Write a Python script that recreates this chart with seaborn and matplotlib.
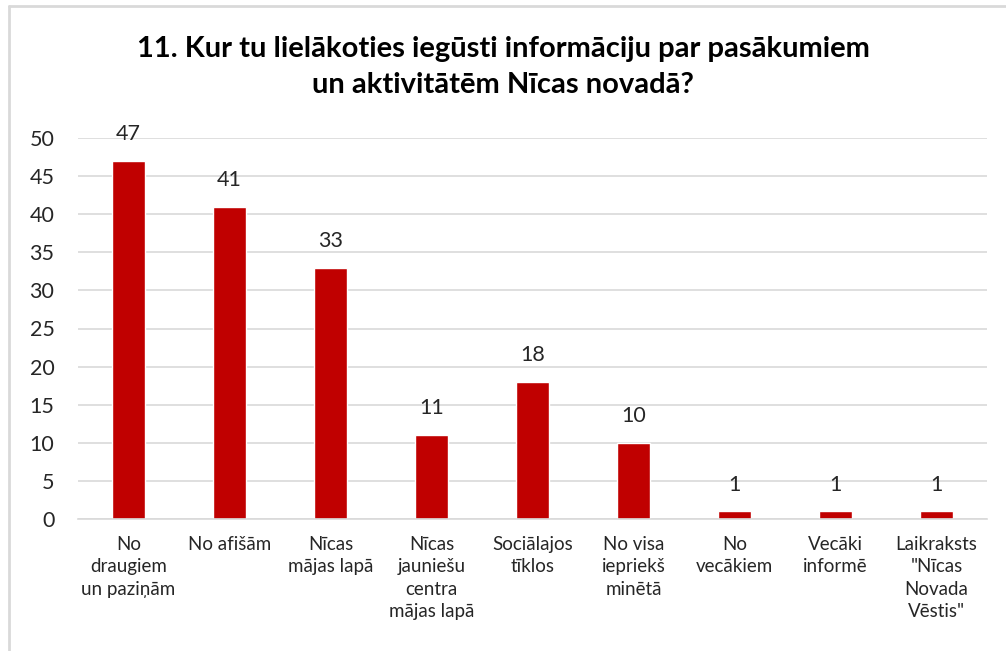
import matplotlib
matplotlib.use("Agg")
import matplotlib.pyplot as plt
import seaborn as sns
import pandas as pd
from matplotlib.lines import Line2D

# --- dati ---
categories = [
    "No\ndraugiem\nun paziņām",
    "No afišām",
    "Nīcas\nmājas lapā",
    "Nīcas\njauniešu\ncentra\nmājas lapā",
    "Sociālajos\ntīklos",
    "No visa\niepriekš\nminētā",
    "No\nvecākiem",
    "Vecāki\ninformē",
    "Laikraksts\n\"Nīcas\nNovada\nVēstis\"",
]
values = [47, 41, 33, 11, 18, 10, 1, 1, 1]
y_ticks = [0, 5, 10, 15, 20, 25, 30, 35, 40, 45, 50]
title = "11. Kur tu lielākoties iegūsti informāciju par pasākumiem\nun aktivitātēm Nīcas novadā?"

df = pd.DataFrame({"kategorija": categories, "skaits": values})

sns.set_style("white")
plt.rcParams['font.family'] = ['Lato', 'DejaVu Sans']

fig = plt.figure(figsize=(10.06, 6.51), dpi=100)
ax = fig.add_axes([78 / 1006, 1 - 519 / 651, 909 / 1006, 381 / 651])

sns.barplot(data=df, x="kategorija", y="skaits", color="#C00000",
            width=0.32, saturation=1, ax=ax)

for i, v in enumerate(values):
    ax.text(i, v + 2.2, str(v), ha="center", va="bottom", fontsize=15.5,
            color="#262626", clip_on=False)

ax.set_ylim(0, 50)
ax.set_xlim(-0.5, len(categories) - 0.5)
ax.set_yticks(y_ticks)
ax.set_yticklabels([str(t) for t in y_ticks], fontsize=15.5, color="#262626")
ax.tick_params(axis="y", length=0, pad=17)
ax.tick_params(axis="x", length=0, pad=12, labelsize=13.5, labelcolor="#262626")
ax.yaxis.grid(True, color="#D9D9D9", linewidth=1.2)
ax.set_axisbelow(True)
for s in ["top", "right", "left"]:
    ax.spines[s].set_visible(False)
ax.spines["bottom"].set_color("#D9D9D9")
ax.spines["bottom"].set_linewidth(1.2)
ax.set_xlabel("")
ax.set_ylabel("")
for lbl in ax.get_xticklabels():
    lbl.set_linespacing(1.4)

fig.text(0.5, 1 - 67 / 651, title, ha="center", va="center", fontsize=21,
         fontweight="bold", color="#000000", linespacing=1.5)

# chart border (left and top visible)
fig.add_artist(Line2D([9 / 1006, 9 / 1006], [0, 1 - 6 / 651], transform=fig.transFigure,
                      color="#D9D9D9", linewidth=2))
fig.add_artist(Line2D([9 / 1006, 1], [1 - 6 / 651, 1 - 6 / 651], transform=fig.transFigure,
                      color="#D9D9D9", linewidth=2))

fig.savefig("out.png", dpi=100)
